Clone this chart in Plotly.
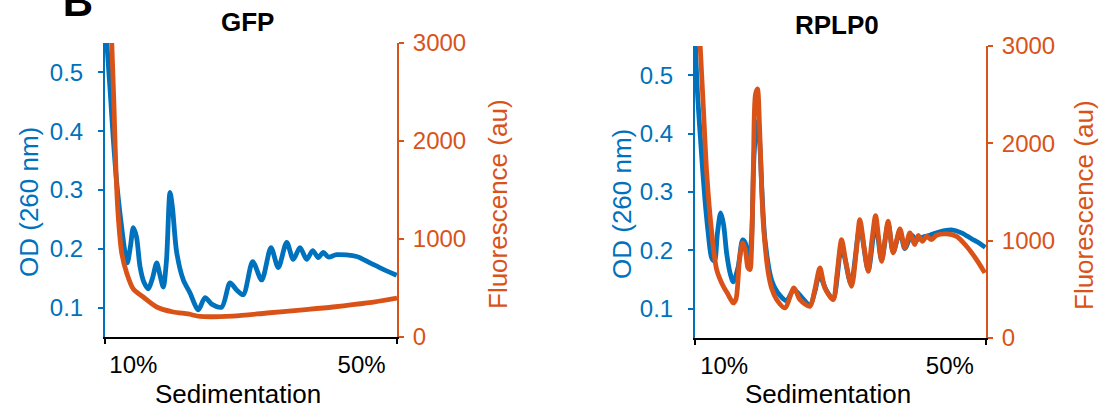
import plotly.graph_objects as go

W, H = 1099, 410
BLUE = "#0072BD"
ORANGE = "#D95319"
FONT = "Liberation Sans, Arial, Helvetica, sans-serif"

# ---- data ----
x_tick_vals = [10, 50]
x_tick_text = ["10%", "50%"]
od_tick_vals = [0.1, 0.2, 0.3, 0.4, 0.5]
od_tick_text = ["0.1", "0.2", "0.3", "0.4", "0.5"]
fl_tick_vals = [0, 1000, 2000, 3000]
fl_tick_text = ["0", "1000", "2000", "3000"]

# GFP panel: OD (260 nm)
gfp_x_od = [5.04, 5.34, 5.92, 6.49, 7.09, 7.79, 8.54, 8.95, 9.51, 10.0, 10.56, 11.17,
            11.87, 12.63, 13.36, 14.10, 14.68, 15.25, 15.81, 16.43, 16.86, 17.60, 18.76,
            19.93, 21.39, 22.56, 23.73, 25.49, 26.94, 28.11, 29.27, 30.92, 32.49, 34.12,
            35.40, 36.87, 38.03, 39.20, 40.38, 41.43, 42.41, 43.29, 44.16, 45.63, 49.14,
            51.47, 53.80, 56.14]
gfp_od = [0.60, 0.553, 0.472, 0.387, 0.313, 0.25, 0.194, 0.176, 0.205, 0.236, 0.22, 0.17,
          0.143, 0.132, 0.150, 0.176, 0.155, 0.135, 0.18, 0.296, 0.27, 0.194, 0.147,
          0.125, 0.096, 0.117, 0.106, 0.101, 0.142, 0.130, 0.122, 0.178, 0.147, 0.202,
          0.168, 0.211, 0.182, 0.202, 0.182, 0.197, 0.185, 0.194, 0.186, 0.190, 0.187,
          0.176, 0.165, 0.155]
# GFP panel: fluorescence (au)
gfp_x_fl = [5.92, 6.21, 6.62, 6.97, 7.37, 7.97, 8.84, 10.0, 11.75, 14.10, 17.0, 19.63,
            21.68, 27.46, 33.42, 39.20, 44.98, 50.94, 56.2]
gfp_fl = [3550, 3029, 2346, 1673, 1224, 857, 653, 490, 408, 306, 255, 235,
          210, 214, 245, 275, 306, 347, 398]

# RPLP0 panel: OD (260 nm)
rplp0_x_od = [4.83, 5.27, 6.02, 6.60, 7.18, 7.79, 8.28, 8.81, 9.38, 9.88, 10.44, 11.03,
              11.61, 12.44, 13.28, 13.77, 14.27, 14.84, 15.28, 15.76, 16.25, 16.70, 17.23,
              18.41, 19.88, 21.07, 22.36, 23.73, 25.20, 26.08, 26.84, 28.15, 29.32, 30.81,
              32.46, 34.05, 35.52, 36.83, 37.90, 39.06, 39.95, 41.14, 42.02, 43.21, 44.10,
              45.26, 46.45, 48.22, 50.29, 52.06, 53.84, 55.31, 56.28]
rplp0_od = [0.57, 0.47, 0.361, 0.286, 0.229, 0.187, 0.182, 0.23, 0.264, 0.245, 0.195, 0.162,
            0.146, 0.17, 0.218, 0.212, 0.172, 0.22, 0.36, 0.42, 0.39, 0.30, 0.218,
            0.149, 0.123, 0.114, 0.133, 0.12, 0.106, 0.13, 0.157, 0.131, 0.117, 0.206,
            0.143, 0.24, 0.166, 0.246, 0.183, 0.246, 0.197, 0.232, 0.203, 0.226, 0.218,
            0.223, 0.226, 0.232, 0.235, 0.23, 0.22, 0.212, 0.205]
# RPLP0 panel: fluorescence (au)
rplp0_x_fl = [5.36, 5.71, 6.30, 6.90, 7.79, 8.67, 9.84, 10.67, 11.61, 12.09, 12.71, 13.28,
              13.77, 14.22, 14.57, 14.84, 15.19, 15.54, 15.90, 16.25, 16.61, 16.93, 17.81,
              18.47, 19.30, 20.77, 22.36, 23.43, 25.20, 26.08, 26.97, 27.85, 29.32, 29.98,
              30.81, 31.57, 32.58, 33.34, 34.05, 34.76, 35.52, 36.18, 36.83, 37.42, 37.90,
              38.48, 39.06, 39.95, 41.14, 42.02, 42.91, 43.79, 44.38, 45.16, 45.87, 46.75,
              47.64, 49.41, 51.18, 52.95, 54.72, 56.19]
rplp0_fl = [3500, 3050, 2383, 1701, 1083, 703, 531, 450, 360, 400, 800, 978,
            900, 720, 703, 900, 1800, 2500, 2560, 2200, 1600, 1183, 672,
            500, 394, 309, 514, 394, 325, 500, 720, 514, 394, 650,
            1011, 780, 531, 850, 1217, 950, 685, 1000, 1258, 1000, 788,
            1000, 1200, 875, 1121, 926, 1080, 960, 1053, 994, 1045, 1011,
            1056, 1070, 1045, 943, 806, 669]

# ---- figure ----
def px_x(p):
    return p / W

def px_y(p):
    return 1 - p / H

line_style = dict(width=4.8, shape="spline", smoothing=0.8)

fig = go.Figure()
fig.add_trace(go.Scatter(x=gfp_x_od, y=gfp_od, mode="lines", xaxis="x", yaxis="y",
                         line=dict(color=BLUE, **line_style), showlegend=False))
fig.add_trace(go.Scatter(x=gfp_x_fl, y=gfp_fl, mode="lines", xaxis="x", yaxis="y2",
                         line=dict(color=ORANGE, **line_style), showlegend=False))
fig.add_trace(go.Scatter(x=rplp0_x_od, y=rplp0_od, mode="lines", xaxis="x2", yaxis="y3",
                         line=dict(color=BLUE, **line_style), showlegend=False))
fig.add_trace(go.Scatter(x=rplp0_x_fl, y=rplp0_fl, mode="lines", xaxis="x2", yaxis="y4",
                         line=dict(color=ORANGE, **line_style), showlegend=False))


def xax(domain, rng, anchor):
    return dict(domain=domain, range=rng, anchor=anchor, showline=True, linecolor="black",
                linewidth=2, tickmode="array", tickvals=x_tick_vals, ticktext=x_tick_text,
                ticks="", tickfont=dict(family=FONT, size=24, color="black"),
                showgrid=False, zeroline=False, ticklabelstandoff=5, automargin=False,
                minor=dict(tickmode="array", tickvals=[rng[0] + 0.02, rng[1] - 0.02],
                           ticks="outside", ticklen=5, tickwidth=2, tickcolor="black",
                           showgrid=False))


def odax(domain, anchor):
    return dict(domain=domain, range=[0.05, 0.55], anchor=anchor, side="left",
                showline=True, linecolor=BLUE, linewidth=2, ticks="outside", ticklen=5,
                tickwidth=2, tickcolor=BLUE, tickmode="array", tickvals=od_tick_vals,
                ticktext=od_tick_text, tickfont=dict(family=FONT, size=24, color=BLUE),
                showgrid=False, zeroline=False, ticklabelstandoff=10, automargin=False)


def flax(overlay, anchor):
    return dict(overlaying=overlay, range=[0, 3000], anchor=anchor, side="right",
                showline=True, linecolor=ORANGE, linewidth=2, ticks="outside", ticklen=5,
                tickwidth=2, tickcolor=ORANGE, tickmode="array", tickvals=fl_tick_vals,
                ticktext=fl_tick_text, tickfont=dict(family=FONT, size=24, color=ORANGE),
                showgrid=False, zeroline=False, ticklabelstandoff=4, automargin=False)


fig.update_layout(
    width=W, height=H, autosize=False,
    margin=dict(l=0, r=0, t=0, b=0, autoexpand=False),
    paper_bgcolor="white", plot_bgcolor="white",
    title=dict(text="<b>B</b>", x=78 / W, y=1 - 1 / H, xref="container", yref="container",
               xanchor="center", yanchor="middle", automargin=False,
               font=dict(family=FONT, size=42, color="black")),
    xaxis=xax([px_x(105), px_x(397)], [5.04, 56.2], "y"),
    yaxis=odax([px_y(337), px_y(43)], "x"),
    yaxis2=flax("y", "x"),
    xaxis2=xax([px_x(695), px_x(986)], [4.83, 56.4], "y3"),
    yaxis3=odax([px_y(338), px_y(46)], "x2"),
    yaxis4=flax("y3", "x2"),
)

ann = []
def text(t, x, y, size, color="black", angle=0, bold=False):
    ann.append(dict(text=t, x=px_x(x), y=px_y(y), xref="paper", yref="paper",
                    xanchor="center", yanchor="middle", showarrow=False, textangle=angle,
                    font=dict(family=FONT, size=size, color=color,
                              weight="bold" if bold else "normal")))

text("GFP", 247, 22, 26, bold=True)
text("RPLP0", 837, 25, 26, bold=True)
text("OD (260 nm)", 29, 202, 26, BLUE, -90)
text("Fluorescence (au)", 498, 204, 26, ORANGE, -90)
text("OD (260 nm)", 622, 204, 26, BLUE, -90)
text("Fluorescence (au)", 1084, 205, 26, ORANGE, -90)
text("Sedimentation", 238, 394, 26)
text("Sedimentation", 828, 394, 26)
fig.update_layout(annotations=ann)

fig.write_html("out.html", config={"displayModeBar": False},
               post_script="document.body.style.margin='0px';")
